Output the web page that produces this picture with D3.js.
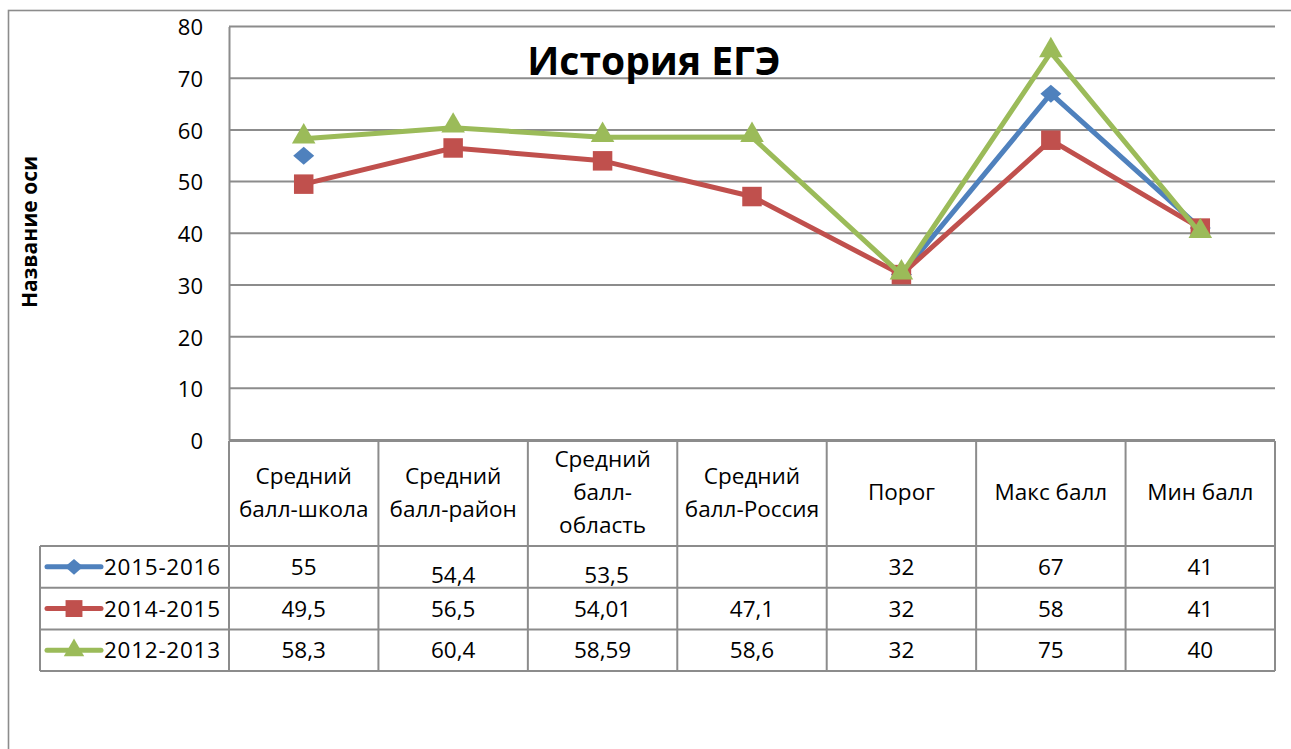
<!DOCTYPE html>
<html>
<head>
<meta charset="utf-8">
<script src="https://cdn.jsdelivr.net/npm/d3@7"></script>
<style>
  body { margin: 0; background: #fff; }
  svg { font-family: "Open Sans", "Noto Sans", sans-serif; }
</style>
</head>
<body>
<svg id="chart" width="1291" height="749"></svg>
<script>
// categories and series
var categories = ["Средний балл-школа", "Средний балл-район", "Средний балл-область",
                  "Средний балл-Россия", "Порог", "Макс балл", "Мин балл"];
var headerLines = [["Средний", "балл-школа"], ["Средний", "балл-район"], ["Средний", "балл-", "область"],
                   ["Средний", "балл-Россия"], ["Порог"], ["Макс балл"], ["Мин балл"]];

var seriesNames = ["2015-2016", "2014-2015", "2012-2013"];
var values2016 = [55, 54.4, 53.5, null, 32, 67, 41];
var values2015 = [49.5, 56.5, 54.01, 47.1, 32, 58, 41];
var values2013 = [58.3, 60.4, 58.59, 58.6, 32, 75, 40];
// in 2015-2016 these cells are stored as text, so they show in the table but are not plotted
var textCells2016 = [1, 2];

var yTicks = [0, 10, 20, 30, 40, 50, 60, 70, 80];

var colors = ["#4F81BD", "#C0504D", "#9BBB59"];

// Excel-like wide diamond (a square turned 45 degrees)
var wideDiamond = {
    draw: function(context, size) {
        var r = Math.sqrt(size / 2);
        context.moveTo(0, -r * 0.9);
        context.lineTo(r * 1.05, 0);
        context.lineTo(0, r * 0.9);
        context.lineTo(-r * 1.05, 0);
        context.closePath();
    }
};
var symbols = [wideDiamond, d3.symbolSquare, d3.symbolTriangle];
var symbolSizes = [200, 380, 240];

var series = [
    {name: seriesNames[0], values: values2016, text: textCells2016},
    {name: seriesNames[1], values: values2015, text: []},
    {name: seriesNames[2], values: values2013, text: []}
];

var svg = d3.select("#chart");
var gridColor = "#8c8c8c";

var plot = {left: 229, right: 1275, top: 26.5, bottom: 440};
var tableTop = 441, headerBottom = 546, rowH = 41.7, legendLeft = 40;

var x = d3.scaleBand().domain(categories).range([plot.left, plot.right]).padding(0);
var y = d3.scaleLinear().domain([0, 80]).range([plot.bottom, plot.top]);
var comma = function(v) { return String(v).replace(".", ","); };

// outer chart frame (runs off the right and bottom edges)
svg.append("rect")
    .attr("x", 8.5).attr("y", 10.5).attr("width", 1300).attr("height", 800)
    .attr("fill", "none").attr("stroke", gridColor).attr("stroke-width", 1.6);

// gridlines
svg.append("g").selectAll("line")
    .data(yTicks)
    .enter().append("line")
    .attr("x1", plot.left).attr("x2", plot.right)
    .attr("y1", function(d) { return y(d); }).attr("y2", function(d) { return y(d); })
    .attr("stroke", gridColor).attr("stroke-width", 2);

// y axis
var yAxis = svg.append("g")
    .attr("transform", "translate(" + plot.left + ",0)")
    .call(d3.axisLeft(y).tickValues(yTicks).tickSize(0).tickPadding(26));
yAxis.select(".domain").attr("stroke", gridColor).attr("stroke-width", 2);
yAxis.selectAll("text").attr("font-size", 22).attr("fill", "#000")
    .attr("font-family", "Open Sans").attr("dy", "0.38em");

svg.append("text")
    .attr("transform", "translate(37,232) rotate(-90)")
    .attr("text-anchor", "middle")
    .attr("font-size", 21).attr("font-weight", "bold")
    .text("Название оси");

svg.append("text")
    .attr("x", 654).attr("y", 75)
    .attr("text-anchor", "middle")
    .attr("font-size", 39).attr("font-weight", "bold")
    .text("История ЕГЭ");

// data table grid
var tbl = svg.append("g").attr("stroke", gridColor).attr("stroke-width", 2);
var colEdges = categories.map(function(c) { return x(c); }).concat([plot.right]);
tbl.selectAll(".vcol")
    .data(colEdges)
    .enter().append("line")
    .attr("x1", function(d) { return d; }).attr("x2", function(d) { return d; })
    .attr("y1", tableTop).attr("y2", headerBottom + 3 * rowH);
tbl.append("line").attr("x1", plot.left).attr("x2", plot.right).attr("y1", tableTop).attr("y2", tableTop);
tbl.selectAll(".hrow")
    .data(d3.range(4))
    .enter().append("line")
    .attr("x1", legendLeft).attr("x2", plot.right)
    .attr("y1", function(i) { return headerBottom + i * rowH; })
    .attr("y2", function(i) { return headerBottom + i * rowH; });
tbl.append("line").attr("x1", legendLeft).attr("x2", legendLeft)
    .attr("y1", headerBottom).attr("y2", headerBottom + 3 * rowH);

// header labels
var headerMid = 492, lineStep = 33, tableFont = 22.5;
svg.append("g").selectAll("text")
    .data(categories)
    .enter().append("text")
    .attr("text-anchor", "middle")
    .attr("font-size", tableFont)
    .each(function(c, i) {
        var lines = headerLines[i];
        var t = d3.select(this);
        lines.forEach(function(l, j) {
            t.append("tspan")
                .attr("x", x(c) + x.bandwidth() / 2)
                .attr("y", headerMid + 8 + (j - (lines.length - 1) / 2) * lineStep)
                .text(l);
        });
    });

// table rows: legend keys and values
series.forEach(function(s, si) {
    var cy = headerBottom + si * rowH + rowH / 2;
    var row = svg.append("g");
    row.append("line")
        .attr("x1", 47).attr("x2", 101).attr("y1", cy).attr("y2", cy)
        .attr("stroke", colors[si]).attr("stroke-width", 5).attr("stroke-linecap", "round");
    row.append("path")
        .attr("d", d3.symbol(symbols[si], symbolSizes[si] * 0.75)())
        .attr("transform", "translate(74," + cy + ")")
        .attr("fill", colors[si]);
    row.append("text")
        .attr("x", 104).attr("y", cy + 8)
        .attr("font-size", tableFont)
        .attr("textLength", 116)
        .text(s.name);
    row.selectAll(".val")
        .data(s.values)
        .enter().append("text")
        .attr("text-anchor", "middle")
        .attr("font-size", tableFont)
        .attr("x", function(d, i) {
            return x(categories[i]) + x.bandwidth() / 2 + (s.text.indexOf(i) >= 0 && i == 2 ? 4 : 0);
        })
        .attr("y", function(d, i) { return cy + 8 + (s.text.indexOf(i) >= 0 ? 8 : 0); })
        .text(function(d) { return d == null ? "" : comma(d); });
});

// lines and markers
var line = d3.line()
    .defined(function(d) { return d.v != null; })
    .x(function(d) { return x(d.c) + x.bandwidth() / 2; })
    .y(function(d) { return y(d.v); });

series.forEach(function(s, si) {
    var pts = s.values.map(function(v, i) {
        return {c: categories[i], v: s.text.indexOf(i) >= 0 ? null : v};
    });
    var g = svg.append("g");
    g.append("path")
        .datum(pts)
        .attr("d", line)
        .attr("fill", "none")
        .attr("stroke", colors[si])
        .attr("stroke-width", 5)
        .attr("stroke-linejoin", "round");
    g.selectAll(".mark")
        .data(pts.filter(function(d) { return d.v != null; }))
        .enter().append("path")
        .attr("d", d3.symbol(symbols[si], symbolSizes[si])())
        .attr("transform", function(d) {
            var dy = si == 2 ? -2 : 0;
            return "translate(" + (x(d.c) + x.bandwidth() / 2) + "," + (y(d.v) + dy) + ")";
        })
        .attr("fill", colors[si]);
});
</script>
</body>
</html>
